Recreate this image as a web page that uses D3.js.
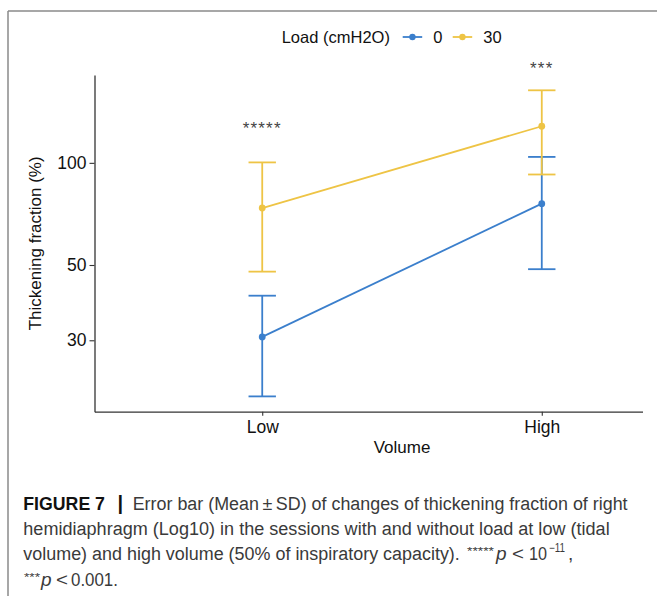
<!DOCTYPE html>
<html>
<head>
<meta charset="utf-8">
<script src="https://cdn.jsdelivr.net/npm/d3@7"></script>
<style>
	html, body { margin: 0; padding: 0; background: #fff; }
	svg { display: block; font-family: 'Liberation Sans', Arial, Helvetica, sans-serif; }
</style>
</head>
<body>
<svg id="chart" width="657" height="596"></svg>
<script>
(function(d3) {
	'use strict';

	/** data */
	var volumes = ['Low', 'High'];
	var loads = ['0', '30'];
	var meanLoad0 = [30.7, 75.8];
	var lowerLoad0 = [20.5, 48.6];
	var upperLoad0 = [40.6, 104.1];
	var meanLoad30 = [73.6, 128.2];
	var lowerLoad30 = [47.8, 92.4];
	var upperLoad30 = [100.3, 163.6];
	var yTicks = [30, 50, 100];
	var sigLabels = ['*****', '***'];
	var sigY = [122, 183];
	var colors = ['#3b7fcc', '#eec445'];

	var series = loads.map(function(load, i) {
		var means = i === 0 ? meanLoad0 : meanLoad30;
		var lowers = i === 0 ? lowerLoad0 : lowerLoad30;
		var uppers = i === 0 ? upperLoad0 : upperLoad30;
		return {
			load: load,
			color: colors[i],
			points: volumes.map(function(v, j) {
				return { volume: v, mean: means[j], lower: lowers[j], upper: uppers[j] };
			})
		};
	});

	var svg = d3.select('#chart');
	var panel = { left: 94.5, right: 709.5, top: 75, bottom: 411.7 };

	/** frame of the figure box */
	svg.append('line').attr('x1', 8).attr('x2', 657).attr('y1', 11).attr('y2', 11)
		.attr('stroke', '#8a8a8a').attr('stroke-width', 1.5);
	svg.append('line').attr('x1', 8).attr('x2', 8).attr('y1', 11).attr('y2', 596)
		.attr('stroke', '#8a8a8a').attr('stroke-width', 1.5);

	svg.append('clipPath').attr('id', 'crop').append('rect')
		.attr('x', 0).attr('y', 0).attr('width', 643).attr('height', 470);
	var g = svg.append('g').attr('clip-path', 'url(#crop)');

	/** scales, log y expanded 5% like ggplot */
	var allValues = lowerLoad0.concat(upperLoad0, lowerLoad30, upperLoad30);
	var lo = Math.log10(d3.min(allValues)), hi = Math.log10(d3.max(allValues));
	var pad = (hi - lo) * 0.05;
	var y = d3.scaleLog().domain([Math.pow(10, lo - pad), Math.pow(10, hi + pad)])
		.range([panel.bottom, panel.top]);
	var x = d3.scalePoint().domain(volumes).range([panel.left, panel.right]).padding(0.6);

	/** axes */
	var yAxis = g.append('g').attr('transform', 'translate(' + panel.left + ',0)')
		.call(d3.axisLeft(y).tickValues(yTicks).tickFormat(d3.format('d')).tickSize(5).tickSizeOuter(0).tickPadding(3));
	var xAxis = g.append('g').attr('transform', 'translate(0,' + panel.bottom + ')')
		.call(d3.axisBottom(x).tickSize(4).tickSizeOuter(0).tickPadding(5));
	[yAxis, xAxis].forEach(function(ax) {
		ax.select('.domain').attr('stroke', '#333').attr('stroke-width', 1.3);
		ax.selectAll('.tick line').attr('stroke', '#333').attr('stroke-width', 1.1);
		ax.selectAll('.tick text').attr('fill', '#111').attr('font-size', 17.5)
			.attr('font-family', "'Liberation Sans', Arial, sans-serif");
	});

	g.append('text').attr('transform', 'translate(35,' + ((panel.top + panel.bottom) / 2) + ') rotate(-90)')
		.attr('text-anchor', 'middle').attr('dominant-baseline', 'central')
		.attr('font-size', 17).attr('fill', '#111').text('Thickening fraction (%)');
	g.append('text').attr('x', (panel.left + panel.right) / 2).attr('y', 453)
		.attr('text-anchor', 'middle').attr('font-size', 17).attr('fill', '#111').text('Volume');

	/** lines, error bars, points */
	var line = d3.line()
		.x(function(d) { return x(d.volume); })
		.y(function(d) { return y(d.mean); });
	var capHalf = 13.7;

	var groups = g.selectAll('.series').data(series).enter().append('g').attr('class', 'series');
	groups.append('path').attr('d', function(s) { return line(s.points); })
		.attr('fill', 'none').attr('stroke', function(s) { return s.color; }).attr('stroke-width', 1.8);
	groups.each(function(s) {
		var sel = d3.select(this);
		var bars = sel.selectAll('.err').data(s.points).enter().append('g').attr('class', 'err')
			.attr('stroke', s.color).attr('stroke-width', 1.8);
		bars.append('line')
			.attr('x1', function(d) { return x(d.volume); }).attr('x2', function(d) { return x(d.volume); })
			.attr('y1', function(d) { return y(d.lower); }).attr('y2', function(d) { return y(d.upper); });
		bars.append('line')
			.attr('x1', function(d) { return x(d.volume) - capHalf; }).attr('x2', function(d) { return x(d.volume) + capHalf; })
			.attr('y1', function(d) { return y(d.upper); }).attr('y2', function(d) { return y(d.upper); });
		bars.append('line')
			.attr('x1', function(d) { return x(d.volume) - capHalf; }).attr('x2', function(d) { return x(d.volume) + capHalf; })
			.attr('y1', function(d) { return y(d.lower); }).attr('y2', function(d) { return y(d.lower); });
		sel.selectAll('circle').data(s.points).enter().append('circle')
			.attr('cx', function(d) { return x(d.volume); }).attr('cy', function(d) { return y(d.mean); })
			.attr('r', 3.4).attr('fill', s.color);
	});

	/** significance labels */
	g.selectAll('.sig').data(sigLabels).enter().append('text').attr('class', 'sig')
		.attr('x', function(d, i) { return x(volumes[i]); })
		.attr('y', function(d, i) { return y(sigY[i]); })
		.attr('text-anchor', 'middle').attr('font-size', 17).attr('fill', '#444')
		.attr('letter-spacing', 1.2)
		.text(function(d) { return d; });

	/** legend */
	var legend = g.append('g').attr('transform', 'translate(0,37)');
	legend.append('text').attr('x', 281.7).attr('dominant-baseline', 'central')
		.attr('font-size', 16.5).attr('fill', '#111').text('Load (cmH2O)');
	var keys = legend.selectAll('.key').data(series).enter().append('g').attr('class', 'key')
		.attr('transform', function(s, i) { return 'translate(' + (402.7 + i * 50) + ',0)'; });
	keys.append('line').attr('x1', 0).attr('x2', 19.5)
		.attr('stroke', function(s) { return s.color; }).attr('stroke-width', 1.8);
	keys.append('circle').attr('cx', 9.75).attr('r', 3.2).attr('fill', function(s) { return s.color; });
	keys.append('text').attr('x', 30.5).attr('dominant-baseline', 'central')
		.attr('font-size', 16.5).attr('fill', '#111').text(function(s) { return s.load; });

	/** caption, squeezed horizontally to the width of the condensed original */
	var cap = svg.append('g').attr('font-size', 19).attr('fill', '#3a3a3a');
	var seg = function(txt, xPos, yPos, len, opts) {
		var t = cap.append('text').text(txt);
		opts = opts || {};
		if (opts.bold) { t.attr('font-weight', 'bold').attr('fill', '#111'); }
		if (opts.italic) { t.attr('font-style', 'italic'); }
		if (opts.size) { t.attr('font-size', opts.size); }
		var sx = len ? len / t.node().getComputedTextLength() : 1;
		t.attr('transform', 'translate(' + xPos + ',' + yPos + ') scale(' + sx + ',1)');
		return t;
	};
	seg('FIGURE 7', 23.3, 510, 81.7, { bold: true });
	seg('|', 117.5, 510, 0, { bold: true, size: 20 });
	seg('Error bar (Mean\u2009\u00b1\u2009SD) of changes of thickening fraction of right', 132.7, 510, 495.3);
	seg('hemidiaphragm (Log10) in the sessions with and without load at low (tidal', 23.3, 535, 586.7);
	seg('volume) and high volume (50% of inspiratory capacity).', 23.3, 560, 436.7);
	seg('*****', 467, 555, 27, { size: 11 });
	seg('p', 496, 560, 0, { italic: true });
	seg('<', 512, 560, 12);
	seg('10', 529, 560, 18);
	seg('\u221211', 549, 552, 16, { size: 12 });
	seg(',', 568, 560);
	seg('***', 24, 581, 16, { size: 11 });
	seg('p', 41, 586, 0, { italic: true });
	seg('<', 56, 586, 12);
	seg('0.001.', 71, 586, 47);
})(d3);
</script>
</body>
</html>
